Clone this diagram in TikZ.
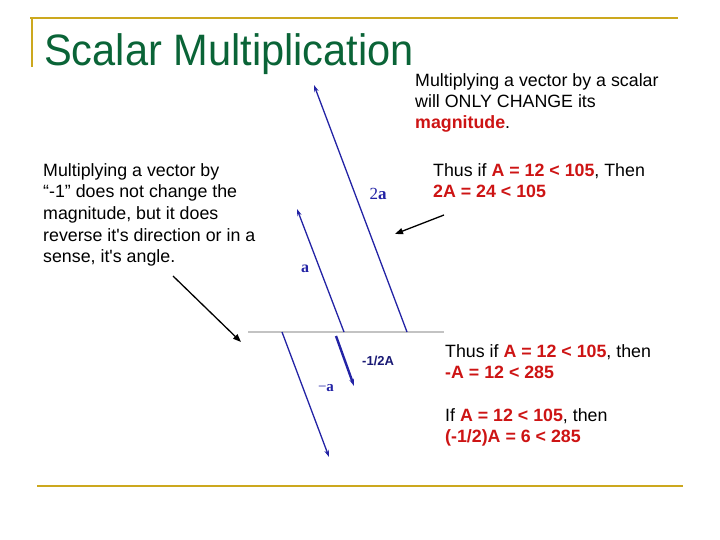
\documentclass[tikz,border=0pt]{standalone}
\usepackage{fontspec}
\setmainfont{Liberation Sans}
\newfontfamily\serifv{Liberation Serif}
\usetikzlibrary{arrows.meta}
\definecolor{gold}{RGB}{204,168,30}
\definecolor{titlegreen}{RGB}{10,100,55}
\definecolor{vecblue}{RGB}{35,35,165}
\definecolor{hired}{RGB}{205,20,20}
\definecolor{axisgray}{RGB}{195,195,195}
\newcommand{\hl}[1]{\textcolor{hired}{\textbf{#1}}}
\newcommand{\apo}{\textquotesingle}
\begin{document}
\begin{tikzpicture}[x=1pt,y=-1pt,
  txt/.style={anchor=base west,inner sep=0pt,font=\fontsize{17.8}{20}\selectfont},
  vec/.style={draw=vecblue,line width=1.3pt,-{Stealth[length=7pt,width=4.5pt]}},
  pointer/.style={draw=black,line width=1.3pt,-{Triangle[length=8pt,width=6pt]}},
  vlab/.style={anchor=base,inner sep=0pt,text=vecblue}]
\useasboundingbox (0,0) rectangle (720,540);
% frame lines
\draw[gold,line width=2.6pt] (30,18) -- (678,18);
\draw[gold,line width=2.6pt] (32,18) -- (32,67);
\draw[gold,line width=2.6pt] (37,486) -- (683,486);
% title
\node[anchor=base west,inner sep=0pt,text=titlegreen,font=\fontsize{44}{50}\selectfont] (title) at (44,66) {\scalebox{0.945}[1]{Scalar Multiplication}};
% axis line
\draw[axisgray,line width=1.8pt] (248,332) -- (444,332);
% vectors
\coordinate (b2a) at (407,332); \coordinate (t2a) at (314,85);
\coordinate (ba) at (344,332); \coordinate (ta) at (297,209);
\coordinate (bna) at (282,332); \coordinate (tna) at (329,457);
\coordinate (bh) at (336,336); \coordinate (th) at (354,386);
\draw[vec] (b2a) -- (t2a);
\draw[vec] (ba) -- (ta);
\draw[vec] (bna) -- (tna);
\draw[vec,line width=2.4pt] (bh) -- (th);
\node[vlab,font=\serifv\fontsize{17}{20}\selectfont] (l2a) at (378,200) {2\textbf{a}};
\node[vlab,font=\serifv\fontsize{16}{20}\selectfont] (la) at (305,272) {\textbf{a}};
\node[vlab,font=\serifv\fontsize{15}{20}\selectfont] (lna) at (326,391) {\textminus\textbf{a}};
\node[vlab,anchor=base west,text=vecblue!70!black,font=\fontsize{13}{15}\selectfont] (lh) at (362,365) {\textbf{-1/2A}};
% texts top right
\node[txt] (t1) at (415,87) {Multiplying a vector by a scalar};
\node[txt] (t2) at (415,108) {will ONLY CHANGE its};
\node[txt] (t3) at (415,129) {\hl{magnitude}.};
\node[txt] (t4) at (433,177) {Thus if \hl{A = 12 < 105}, Then};
\node[txt] (t5) at (433,198) {\hl{2A = 24 < 105}};
% left text
\node[txt] (s1) at (43,177) {Multiplying a vector by};
\node[txt] (s2) at (43,198) {“-1” does not change the};
\node[txt] (s3) at (43,220) {magnitude, but it does};
\node[txt] (s4) at (43,241) {reverse it\apo s direction or in a};
\node[txt] (s5) at (43,262) {sense, it\apo s angle.};
% lower right
\node[txt] (u1) at (445,357) {Thus if \hl{A = 12 < 105}, then};
\node[txt] (u2) at (445,378) {\hl{-A = 12 < 285}};
\node[txt] (u3) at (445,421) {If \hl{A = 12 < 105}, then};
\node[txt] (u4) at (445,442) {\hl{(-1/2)A = 6 < 285}};
% pointers
\coordinate (p1s) at (444,215); \coordinate (p1e) at (395,234);
\coordinate (p2s) at (173,276); \coordinate (p2e) at (241,342);
\draw[pointer] (p1s) -- (p1e);
\draw[pointer] (p2s) -- (p2e);
\end{tikzpicture}
\end{document}
